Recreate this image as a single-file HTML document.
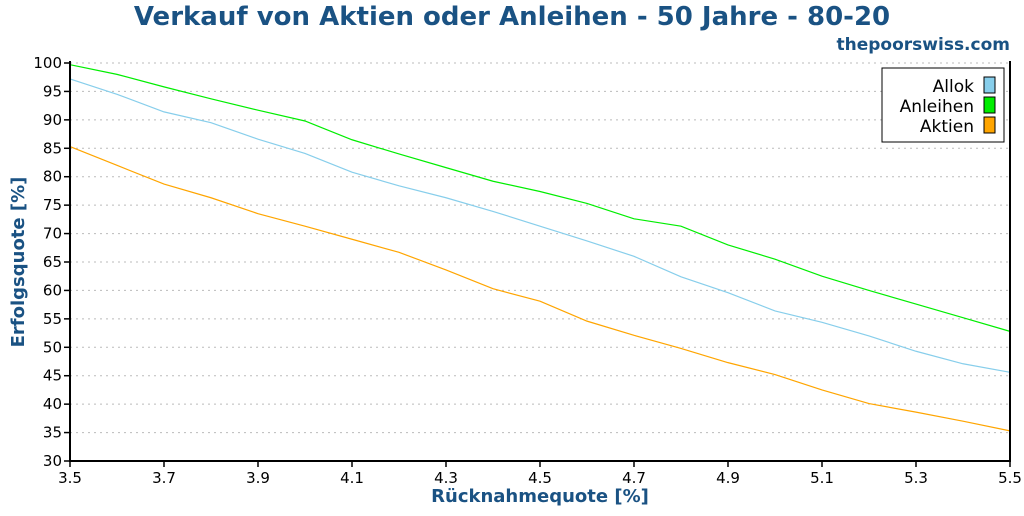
<!DOCTYPE html>
<html><head><meta charset="utf-8"><style>
body{margin:0;background:#fff;width:1024px;height:512px;overflow:hidden;font-family:"DejaVu Sans","Liberation Sans",sans-serif}
</style></head><body>
<svg id="c" width="1024" height="512" xmlns="http://www.w3.org/2000/svg">
<text x="512" y="25" text-anchor="middle" font-size="26" font-weight="bold" fill="#1a5283">Verkauf von Aktien oder Anleihen - 50 Jahre - 80-20</text>
<text x="1010" y="50" text-anchor="end" font-size="17" font-weight="bold" fill="#1a5283">thepoorswiss.com</text>
<text x="0" y="0" transform="translate(24,262) rotate(-90)" text-anchor="middle" font-size="18" font-weight="bold" fill="#1a5283">Erfolgsquote [%]</text>
<text x="540" y="502" text-anchor="middle" font-size="18" font-weight="bold" fill="#1a5283">Rücknahmequote [%]</text>
<g id="grid"></g><g id="series"></g><g id="axes"></g>
<g>
<rect x="882" y="68" width="122" height="74" fill="#fff" stroke="#000" stroke-width="1"/>
<text x="974" y="92" text-anchor="end" font-size="17">Allok</text>
<rect x="984" y="77" width="11" height="16" fill="#87ceeb" stroke="#000"/>
<text x="974" y="112" text-anchor="end" font-size="17">Anleihen</text>
<rect x="984" y="97" width="11" height="16" fill="#00ee00" stroke="#000"/>
<text x="974" y="132" text-anchor="end" font-size="17">Aktien</text>
<rect x="984" y="117" width="11" height="16" fill="#ffa500" stroke="#000"/>
</g>
</svg>
<script>
const xValues=[3.5,3.6,3.7,3.8,3.9,4.0,4.1,4.2,4.3,4.4,4.5,4.6,4.7,4.8,4.9,5.0,5.1,5.2,5.3,5.4,5.5];
const allok=[97.2,94.5,91.4,89.5,86.6,84.1,80.8,78.4,76.3,73.9,71.3,68.7,66.0,62.4,59.6,56.4,54.4,52.0,49.3,47.1,45.6];
const anleihen=[99.7,98.0,95.8,93.7,91.7,89.8,86.5,84.0,81.6,79.2,77.4,75.3,72.6,71.3,68.0,65.5,62.5,60.0,57.6,55.2,52.8];
const aktien=[85.3,82.0,78.7,76.3,73.5,71.3,69.0,66.7,63.6,60.3,58.1,54.6,52.1,49.8,47.3,45.2,42.5,40.1,38.6,37.0,35.3];
const yTicks=[30,35,40,45,50,55,60,65,70,75,80,85,90,95,100];
const xTicks=["3.5","3.7","3.9","4.1","4.3","4.5","4.7","4.9","5.1","5.3","5.5"];
const L=70,R=1010,T=63,B=461;
const sx=v=>L+(v-3.5)/(2.0)*(R-L);
const sy=v=>B-(v-30)/70*(B-T);
const NS="http://www.w3.org/2000/svg";
function mk(t,a,p){const e=document.createElementNS(NS,t);for(const k in a)e.setAttribute(k,a[k]);p.appendChild(e);return e;}
const grid=document.getElementById('grid'),axes=document.getElementById('axes'),ser=document.getElementById('series');
yTicks.forEach(v=>{
 const y=sy(v);
 if(v>30){const g=mk('line',{x1:L,x2:R,y1:y,y2:y,stroke:'#bbb','stroke-dasharray':'2,4'},grid);
 
 }
 const t=mk('line',{x1:L-6,x2:L,y1:y,y2:y,stroke:'#000','stroke-width':1.5},axes);
 
 
 const l=mk('text',{x:L-8,y:y+5,'text-anchor':'end','font-size':15},axes);l.textContent=v;
 
 
});
xTicks.forEach(s=>{
 const x=sx(parseFloat(s));
 const t=mk('line',{x1:x,x2:x,y1:B,y2:B+6,stroke:'#000','stroke-width':1.5},axes);
 
 
 const l=mk('text',{x:x,y:B+22,'text-anchor':'middle','font-size':15},axes);l.textContent=s;
 
 
});
const ax=mk('path',{d:`M${L},${T-2}V${B}H${R}V${T-2}`,fill:'none',stroke:'#000','stroke-width':2},axes);


[[anleihen,'#00ee00','line-anleihen'],[allok,'#87ceeb','line-allok'],[aktien,'#ffa500','line-aktien']].forEach(([d,c,n])=>{
 const p=mk('polyline',{points:d.map((v,i)=>sx(xValues[i])+','+sy(v)).join(' '),fill:'none',stroke:c,'stroke-width':1.2},ser);
 
 
});
</script>
</body></html>
